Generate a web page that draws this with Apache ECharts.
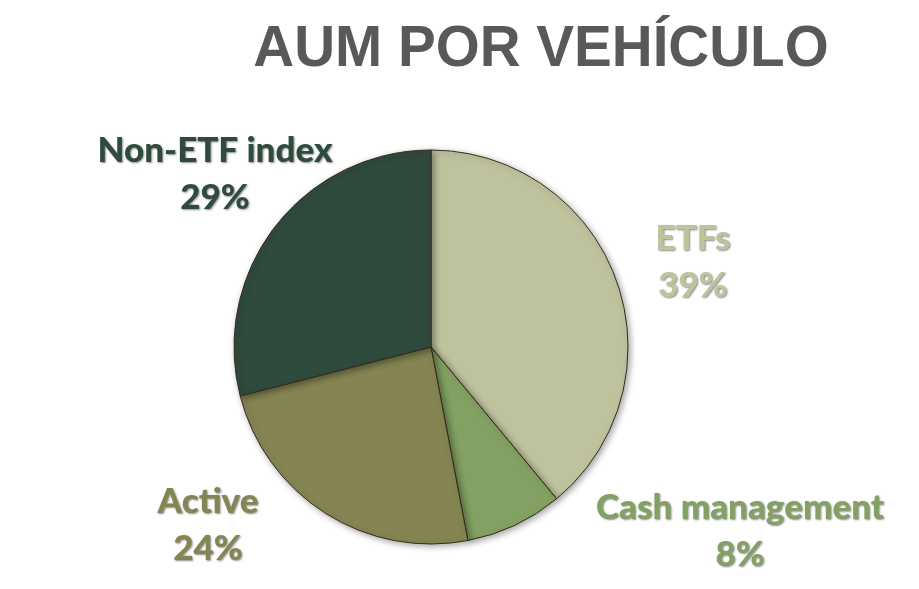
<!DOCTYPE html>
<html>
  <head>
    <meta http-equiv="Content-Type" content="text/html; charset=UTF-8">
    <title>AUM por vehículo</title>
    <style type="text/css">
      body {
        margin: 0;
        padding: 0;
        background-color: white;
      }
      #main {
        width: 919px;
        height: 589px;
      }
    </style>
  </head>
  <body>
    <div id="main"></div>
    <script src="https://cdn.jsdelivr.net/npm/echarts@6/dist/echarts.min.js" type="text/javascript" charset="utf-8"></script>
    <script type="text/javascript">
        var categories = ['ETFs', 'Cash management', 'Active', 'Non-ETF index'];
        var values = [39, 8, 24, 29];
        var colors = ['#bec29d', '#83a162', '#858553', '#2f4b3d'];

        // where each label sits (centre of the text block)
        var labelSpots = [[693, 262], [740, 531], [208, 525], [215, 174]];

        var myChart = echarts.init(document.getElementById('main'));
        var option = {
            backgroundColor: 'white',
            title: {
                text: 'AUM POR VEHÍCULO',
                left: 536,
                top: 17,
                textAlign: 'center',
                textStyle: {
                    fontFamily: 'Liberation Sans',
                    fontWeight: 'bold',
                    fontSize: 56.6,
                    color: '#595959'
                }
            },
            series: [{
                type: 'pie',
                center: [431, 347],
                radius: 197,
                startAngle: 90,
                clockwise: true,
                silent: true,
                animation: false,
                data: categories.map(function (name, i) {
                    return {
                        name: name,
                        value: values[i],
                        itemStyle: { color: colors[i] },
                        label: { color: colors[i] }
                    };
                }),
                itemStyle: {
                    borderColor: '#3a2a1e',
                    borderWidth: 1,
                    shadowColor: 'rgba(0,0,0,0.35)',
                    shadowBlur: 6,
                    shadowOffsetX: 2,
                    shadowOffsetY: 2
                },
                label: {
                    show: true,
                    position: 'outside',
                    formatter: '{b}\n{d}%',
                    fontFamily: 'Lato',
                    fontWeight: 900,
                    fontSize: 35,
                    lineHeight: 47,
                    align: 'center',
                    overflow: 'none',
                    textShadowColor: 'rgba(0,0,0,0.45)',
                    textShadowBlur: 2,
                    textShadowOffsetX: 1,
                    textShadowOffsetY: 1
                },
                labelLine: { show: false },
                labelLayout: function (params) {
                    var p = labelSpots[params.dataIndex];
                    return {
                        x: p[0],
                        y: p[1],
                        align: 'center',
                        verticalAlign: 'middle'
                    };
                }
            }]
        };
        myChart.setOption(option);
    </script>
  </body>
</html>
